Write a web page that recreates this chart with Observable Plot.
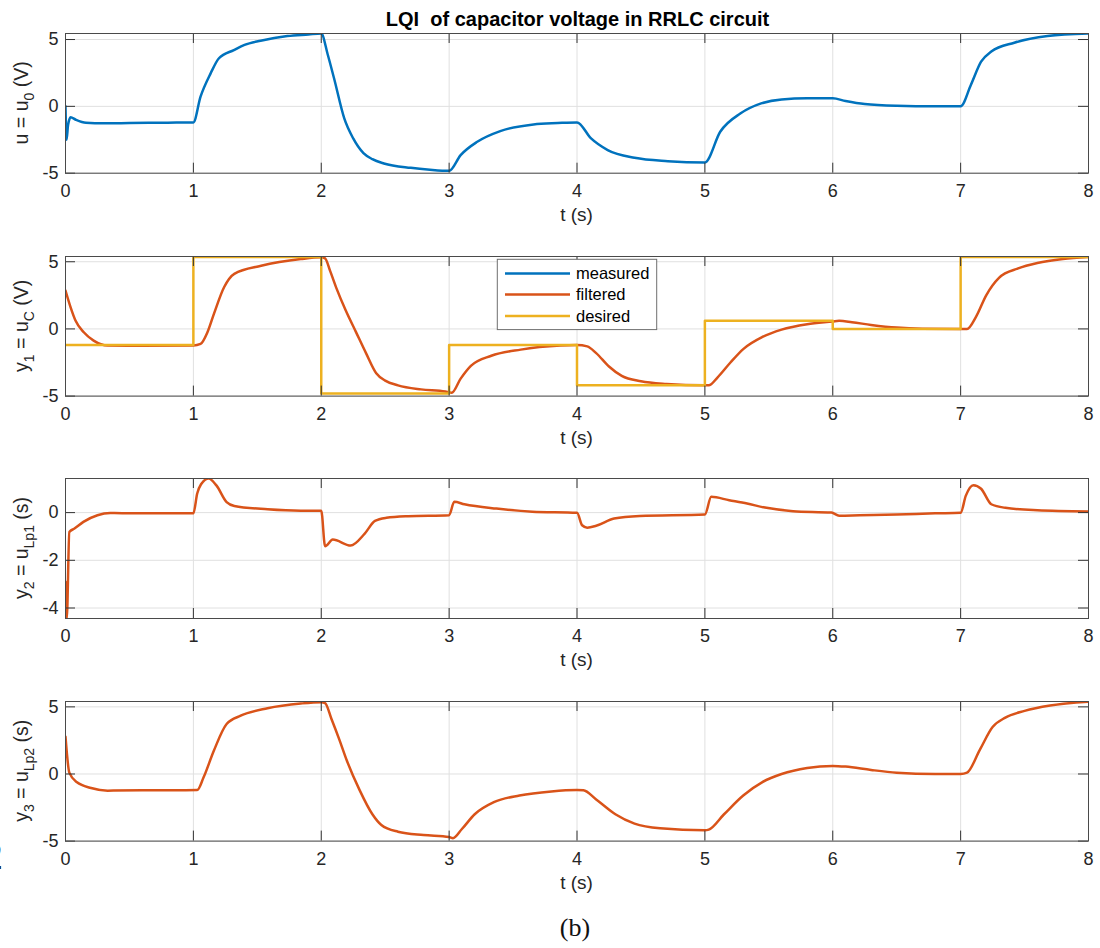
<!DOCTYPE html>
<html>
<head>
<meta charset="utf-8">
<script src="https://cdn.jsdelivr.net/npm/d3@7"></script>
<script src="https://cdn.jsdelivr.net/npm/@observablehq/plot@0.6"></script>
<style>
  html, body { margin: 0; padding: 0; background: #fff; }
  #chart { position: relative; width: 1100px; height: 948px; background: #fff; overflow: hidden; }
  #chart svg { position: absolute; left: 0; background: transparent; overflow: visible; }
  .cap { position: absolute; font-family: "Liberation Serif", "DejaVu Serif", serif; color: #111; }
</style>
</head>
<body>
<div id="chart"></div>
<script>
// ---------- data ----------
const xTicks = [0, 1, 2, 3, 4, 5, 6, 7, 8];

// panel 1: u = u0 (measured input)
const uT = [0, 0.008, 0.02, 0.04, 0.08, 0.16, 0.3, 0.5, 0.8, 1.0, 1.056, 1.135, 1.2, 1.317, 1.4, 1.526, 1.735, 1.9, 2.0,
  2.05, 2.1, 2.18, 2.25, 2.33, 2.4, 2.49, 2.7, 2.85, 3.0, 3.09, 3.22, 3.4, 3.66, 3.85, 4.0,
  4.11, 4.24, 4.45, 4.71, 5.0, 5.12, 5.28, 5.44, 5.6, 5.8, 6.0, 6.1, 6.25, 6.5, 6.8, 7.0,
  7.08, 7.16, 7.24, 7.42, 7.68, 8.0];
const uV = [0, -2.5, -1.4, -0.82, -1.0, -1.23, -1.27, -1.25, -1.22, -1.2, 0.72, 2.47, 3.6, 4.21, 4.6, 4.91, 5.26, 5.38, 5.45,
  3.9, 2.1, -0.9, -2.4, -3.5, -3.95, -4.27, -4.6, -4.74, -4.82, -3.65, -2.65, -1.85, -1.35, -1.25, -1.2,
  -2.4, -3.27, -3.85, -4.1, -4.2, -1.9, -0.52, 0.22, 0.52, 0.6, 0.6, 0.4, 0.17, 0.04, 0.0, 0.0,
  1.6, 3.34, 4.1, 4.76, 5.26, 5.46];

// panel 2: y1 = uC filtered and desired
const y1T = [0, 0.04, 0.078, 0.143, 0.22, 0.33, 0.6, 1.0, 1.056, 1.11, 1.16, 1.24, 1.32, 1.53, 1.84, 2.0,
  2.03, 2.07, 2.12, 2.19, 2.27, 2.35, 2.43, 2.5, 2.6, 2.78, 2.97, 3.02, 3.09, 3.17, 3.33, 3.56, 3.87, 4.0,
  4.08, 4.15, 4.25, 4.35, 4.5, 4.7, 5.0, 5.03, 5.1, 5.2, 5.3, 5.45, 5.6, 5.8, 6.0, 6.05, 6.15, 6.3, 6.5, 6.7, 7.0,
  7.05, 7.12, 7.2, 7.3, 7.45, 7.6, 7.8, 8.0];
const y1V = [2.85, 1.6, 0.62, -0.25, -0.87, -1.24, -1.25, -1.24, -1.12, -0.25, 1.1, 3.1, 4.1, 4.7, 5.2, 5.33,
  5.25, 4.3, 3.0, 1.4, -0.2, -1.8, -3.3, -3.85, -4.2, -4.5, -4.66, -4.75, -3.7, -2.75, -2.0, -1.54, -1.24, -1.2,
  -1.3, -1.8, -2.8, -3.5, -3.9, -4.1, -4.2, -4.2, -3.6, -2.5, -1.5, -0.6, -0.05, 0.35, 0.55, 0.6, 0.5, 0.3, 0.1, 0.02, 0.0,
  0.0, 0.9, 2.5, 3.8, 4.5, 4.9, 5.2, 5.35];
const refT = [0, 1, 2, 3, 4, 5, 6, 7, 8];
const refV = [-1.2, 5.35, -4.8, -1.2, -4.2, 0.6, 0.0, 5.35, 5.35];

// panel 3: y2 = uLp1
const y2T = [0, 0.01, 0.03, 0.07, 0.14, 0.25, 0.35, 0.6, 1.0, 1.03, 1.06, 1.12, 1.18, 1.26, 1.32, 1.58, 1.84, 2.0,
  2.03, 2.09, 2.23, 2.34, 2.42, 2.51, 2.68, 3.0, 3.04, 3.12, 3.37, 3.65, 4.0,
  4.04, 4.08, 4.15, 4.29, 4.49, 5.0, 5.05, 5.19, 5.33, 5.47, 5.69, 5.99, 6.05, 6.21, 6.5, 6.8, 7.0,
  7.04, 7.1, 7.16, 7.24, 7.35, 7.6, 8.0];
const y2V = [-2.9, -4.44, -0.81, -0.67, -0.39, -0.11, -0.02, -0.03, -0.03, 0.8, 1.19, 1.43, 1.14, 0.44, 0.28, 0.14, 0.08, 0.08,
  -1.41, -1.13, -1.38, -0.88, -0.35, -0.22, -0.15, -0.11, 0.45, 0.35, 0.17, 0.04, -0.01,
  -0.53, -0.63, -0.55, -0.25, -0.14, -0.08, 0.66, 0.52, 0.38, 0.21, 0.06, 0.0, -0.13, -0.11, -0.08, -0.03, -0.01,
  0.7, 1.15, 1.0, 0.35, 0.2, 0.1, 0.05];

// panel 4: y3 = uLp2
const y3T = [0, 0.03, 0.09, 0.2, 0.33, 0.6, 1.03, 1.08, 1.16, 1.26, 1.37, 1.58, 1.84, 2.0,
  2.03, 2.08, 2.14, 2.2, 2.3, 2.4, 2.47, 2.6, 2.8, 3.0, 3.03, 3.1, 3.2, 3.35, 3.55, 3.8, 4.0,
  4.05, 4.15, 4.3, 4.45, 4.65, 5.0, 5.03, 5.15, 5.3, 5.45, 5.6, 5.8, 6.0, 6.1, 6.3, 6.5, 6.8, 7.0,
  7.05, 7.15, 7.25, 7.35, 7.5, 7.7, 8.0];
const y3V = [2.78, 0.1, -0.62, -1.04, -1.24, -1.22, -1.2, -0.25, 1.73, 3.72, 4.34, 4.9, 5.25, 5.35,
  5.28, 4.1, 2.6, 1.0, -1.2, -3.0, -3.8, -4.3, -4.55, -4.7, -4.78, -4.1, -3.0, -2.1, -1.6, -1.3, -1.2,
  -1.22, -1.9, -3.0, -3.7, -4.05, -4.2, -4.15, -3.0, -1.6, -0.6, 0.0, 0.45, 0.6, 0.55, 0.3, 0.1, 0.0, 0.0,
  0.1, 1.8, 3.5, 4.2, 4.7, 5.1, 5.38];

const colors = { measured: "#0072BD", filtered: "#D95319", desired: "#EDB120" };
const legendItems = ["measured", "filtered", "desired"];

// ---------- drawing ----------
const zip = (T, V) => T.map((t, i) => ({ t, v: V[i] }));
const W = 1100, ML = 65, MR = 12, SVG_H = 222, MT = 33;
const FONT = "Liberation Sans, Arial, Helvetica, sans-serif";
const TXT = "#262626";
const chart = document.getElementById("chart");

const panels = [
  { top: 33.3, bottom: 173, yDomain: [-5, 5.45], yTicks: [-5, 0, 5],
    lines: [{ T: uT, V: uV, c: colors.measured }],
    ylab: ["u = u", "0", " (V)"] },
  { top: 255.7, bottom: 395.3, yDomain: [-5, 5.39], yTicks: [-5, 0, 5],
    lines: [{ T: y1T, V: y1V, c: colors.filtered }, { T: refT, V: refV, c: colors.desired, step: true }],
    ylab: ["y", "1", " = u", "C", " (V)"], legend: true },
  { top: 478.3, bottom: 618.3, yDomain: [-4.44, 1.43], yTicks: [-4, -2, 0],
    lines: [{ T: y2T, V: y2V, c: colors.filtered }],
    ylab: ["y", "2", " = u", "Lp1", " (s)"] },
  { top: 700.7, bottom: 840.3, yDomain: [-5, 5.4], yTicks: [-5, 0, 5],
    lines: [{ T: y3T, V: y3V, c: colors.filtered }],
    ylab: ["y", "3", " = u", "Lp2", " (s)"] }
];

panels.forEach((p, k) => {
  const fh = p.bottom - p.top;
  const fw = W - ML - MR;
  const marks = [
    Plot.gridX(xTicks, { stroke: "#e0e0e0", strokeOpacity: 1 }),
    Plot.gridY(p.yTicks, { stroke: "#e0e0e0", strokeOpacity: 1 }),
    Plot.axisX(xTicks, { label: null, tickSize: 0, tickPadding: 11, fontSize: 18, fill: TXT, tickFormat: d => String(d) }),
    Plot.axisY(p.yTicks, { label: null, tickSize: 0, tickPadding: 7, fontSize: 18, fill: TXT, tickFormat: d => String(d) })
  ];
  p.lines.forEach(l => {
    marks.push(Plot.line(zip(l.T, l.V), { x: "t", y: "v", stroke: l.c, strokeWidth: 2.5, curve: l.step ? "step-after" : "monotone-x", clip: true }));
  });
  marks.push(
    Plot.ruleX(xTicks, { stroke: "#333", strokeWidth: 1, insetTop: fh - 10 }),
    Plot.ruleX(xTicks, { stroke: "#333", strokeWidth: 1, insetBottom: fh - 10 }),
    Plot.ruleY(p.yTicks, { stroke: "#333", strokeWidth: 1, insetRight: fw - 10 }),
    Plot.ruleY(p.yTicks, { stroke: "#333", strokeWidth: 1, insetLeft: fw - 10 }),
    Plot.frame({ stroke: "#4a4a4a", strokeWidth: 1 })
  );
  const svg = Plot.plot({
    width: W, height: SVG_H,
    marginLeft: ML, marginRight: MR, marginTop: MT, marginBottom: SVG_H - MT - fh,
    x: { domain: [0, 8], label: null },
    y: { domain: p.yDomain, label: null },
    style: { fontFamily: FONT, fontSize: "18px", color: TXT, background: "transparent", overflow: "visible" },
    marks
  });
  const top = p.top - MT;
  svg.style.top = top + "px";
  chart.appendChild(svg);
  const s = d3.select(svg);
  // x label
  s.append("text").attr("x", ML + fw / 2).attr("y", MT + fh + 48)
    .attr("text-anchor", "middle").attr("font-family", FONT).attr("font-size", 19).attr("fill", TXT)
    .text("t (s)");
  // y label with subscripts
  const yl = s.append("text")
    .attr("transform", `translate(28,${MT + fh / 2}) rotate(-90)`)
    .attr("text-anchor", "middle").attr("font-family", FONT).attr("font-size", 19.5).attr("fill", TXT)
    .style("white-space", "pre");
  p.ylab.forEach((part, i) => {
    const sub = i % 2 === 1;
    yl.append("tspan").attr("font-size", sub ? 14 : 19.5).attr("dy", sub ? 6 : (i === 0 ? 0 : -6)).text(part);
  });
  if (k === 0) {
    s.append("text").attr("x", ML + fw / 2 + 1).attr("y", MT - 7)
      .attr("text-anchor", "middle").attr("font-family", FONT).attr("font-size", 20).attr("font-weight", "bold")
      .attr("fill", "#000").style("white-space", "pre")
      .text("LQI  of capacitor voltage in RRLC circuit");
  }
  if (p.legend) {
    const lx = 497.3, ly = 259 - top, lw = 159.4, lh = 70.3;
    const g = s.append("g");
    g.append("rect").attr("x", lx).attr("y", ly).attr("width", lw).attr("height", lh)
      .attr("fill", "#fff").attr("stroke", "#6e6e6e").attr("stroke-width", 1);
    const rows = [273.3, 294.3, 315.7];
    legendItems.forEach((name, i) => {
      const yy = rows[i] - top;
      g.append("line").attr("x1", 505).attr("x2", 570).attr("y1", yy).attr("y2", yy)
        .attr("stroke", colors[name]).attr("stroke-width", 2.5);
      g.append("text").attr("x", 576).attr("y", yy).attr("dy", "0.35em").attr("text-anchor", "start")
        .attr("font-family", FONT).attr("font-size", 16.5).attr("fill", "#000").text(name);
    });
  }
});

const cap = document.createElement("div");
cap.className = "cap";
cap.style.cssText += "left:0;width:1150px;text-align:center;top:913px;font-size:26px;";
cap.textContent = "(b)";
chart.appendChild(cap);

const frag = document.createElement("div");
frag.className = "cap";
frag.style.cssText += "left:-17px;top:832px;font-size:40px;";
frag.textContent = "2";
chart.appendChild(frag);
</script>
</body>
</html>
